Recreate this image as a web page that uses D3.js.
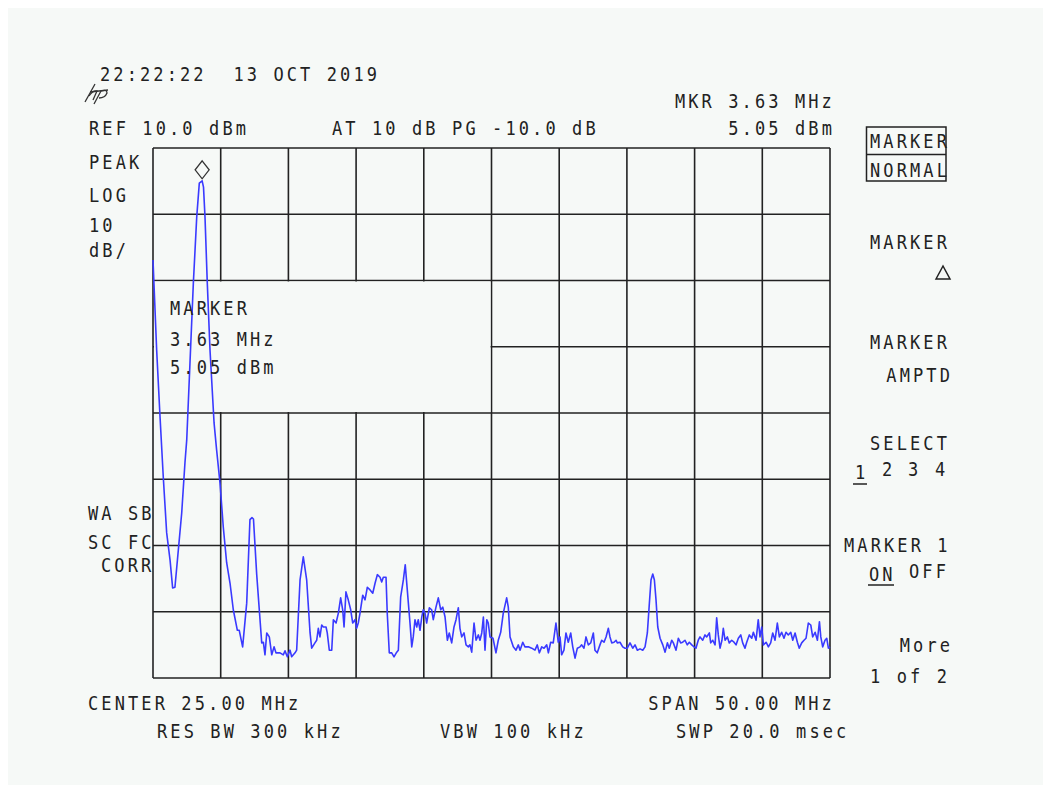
<!DOCTYPE html>
<html>
<head>
<meta charset="utf-8">
<script src="https://cdn.jsdelivr.net/npm/d3@7"></script>
<style>
  html, body { margin: 0; padding: 0; background: #ffffff; }
  svg { display: block; }
  text { font-family: "DejaVu Sans Mono", monospace; font-size: 20px; letter-spacing: 3.66px; fill: #222; white-space: pre; }
</style>
</head>
<body>
<svg id="chart" width="1051" height="792"></svg>
<script>
// ---- Data (frequency in MHz, level in dBm) ----
const freqMHz = [
  0.00, 0.27, 0.52, 0.76, 1.01, 1.26, 1.45, 1.62, 1.87, 2.12, 2.36, 2.49, 2.73, 2.98, 3.23, 3.42, 3.63, 3.73, 3.84, 4.01,
  4.21, 4.51, 4.70, 4.95, 5.19, 5.44, 5.69, 5.93, 6.23, 6.37, 6.62, 6.92, 7.16, 7.31, 7.42, 7.66, 8.03, 8.15, 8.27, 8.40,
  8.59, 8.77, 8.94, 9.08, 9.38, 9.62, 9.75, 9.92, 10.12, 10.24, 10.49, 10.61, 10.86, 11.10, 11.35, 11.60, 11.72, 11.96, 12.09, 12.21,
  12.33, 12.46, 12.58, 12.78, 12.87, 13.02, 13.20, 13.32, 13.52, 13.69, 13.86, 14.01, 14.11, 14.25, 14.42, 14.60, 14.75, 14.92, 15.04, 15.16,
  15.29, 15.49, 15.66, 15.83, 16.03, 16.23, 16.40, 16.57, 16.77, 16.89, 17.01, 17.21, 17.30, 17.45, 17.63, 17.80, 18.00, 18.12, 18.29, 18.49,
  18.63, 18.78, 18.98, 19.11, 19.22, 19.35, 19.48, 19.59, 19.72, 19.85, 19.96, 20.09, 20.21, 20.41, 20.58, 20.70, 20.90, 21.07, 21.25, 21.40,
  21.57, 21.74, 21.88, 22.06, 22.23, 22.38, 22.55, 22.67, 22.80, 22.97, 23.12, 23.29, 23.41, 23.54, 23.71, 23.86, 24.03, 24.15, 24.28, 24.40,
  24.52, 24.65, 24.76, 24.89, 25.11, 25.33, 25.50, 25.68, 25.87, 26.12, 26.24, 26.37, 26.61, 26.81, 26.98, 27.11, 27.31, 27.47, 27.72, 27.97,
  28.21, 28.38, 28.53, 28.71, 28.88, 29.08, 29.20, 29.37, 29.56, 29.76, 29.93, 30.06, 30.18, 30.35, 30.50, 30.67, 30.85, 31.00, 31.17, 31.34,
  31.54, 31.66, 31.83, 31.98, 32.15, 32.33, 32.52, 32.64, 32.81, 33.01, 33.14, 33.31, 33.46, 33.63, 33.75, 33.88, 34.05, 34.20, 34.29, 34.49,
  34.69, 34.86, 35.03, 35.23, 35.43, 35.60, 35.77, 35.97, 36.17, 36.34, 36.51, 36.66, 36.78, 36.91, 37.03, 37.15, 37.28, 37.45, 37.65, 37.82,
  37.99, 38.13, 38.31, 38.43, 38.63, 38.80, 38.97, 39.12, 39.29, 39.46, 39.61, 39.79, 39.96, 40.10, 40.27, 40.40, 40.60, 40.77, 40.89, 41.09,
  41.19, 41.34, 41.51, 41.63, 41.75, 41.88, 42.02, 42.12, 42.25, 42.42, 42.56, 42.74, 42.91, 43.06, 43.23, 43.41, 43.55, 43.72, 43.85, 44.04,
  44.22, 44.34, 44.54, 44.70, 44.83, 44.96, 45.08, 45.28, 45.45, 45.62, 45.77, 45.94, 46.11, 46.26, 46.43, 46.60, 46.75, 46.92, 47.10, 47.25,
  47.42, 47.59, 47.73, 47.91, 48.08, 48.23, 48.40, 48.58, 48.72, 48.90, 49.07, 49.22, 49.32, 49.46, 49.63, 49.76, 49.88, 50.00
];
const levelDBm = [
  -6.9, -20.5, -30.6, -39.7, -48.1, -52.2, -56.4, -56.3, -50.7, -45.1, -37.5, -34.1, -22.5, -10.4, -0.4, 4.7, 5.05, 4.1, -0.4, -10.4,
  -20.5, -31.5, -35.6, -40.6, -47.2, -52.6, -55.7, -59.7, -62.8, -62.8, -65.3, -58.7, -46.1, -45.8, -46.0, -54.4, -64.7, -64.6, -66.5, -63.2,
  -63.8, -66.5, -65.3, -66.2, -66.2, -66.5, -65.9, -66.8, -65.8, -66.8, -66.2, -65.8, -55.2, -51.7, -55.2, -63.2, -65.5, -64.7, -64.3, -62.5,
  -63.8, -62.0, -62.3, -62.3, -63.2, -65.8, -65.8, -61.2, -61.7, -60.2, -57.9, -59.7, -62.3, -57.0, -58.2, -59.7, -61.7, -61.2, -62.5, -61.7,
  -60.2, -57.5, -58.2, -56.3, -56.7, -57.2, -55.7, -54.4, -54.8, -55.5, -54.8, -54.8, -60.2, -66.2, -66.2, -66.8, -66.1, -65.8, -57.8, -55.2,
  -52.9, -56.7, -61.7, -65.3, -63.8, -61.2, -62.3, -61.2, -62.8, -60.8, -59.7, -60.2, -61.7, -59.4, -59.7, -61.2, -59.3, -57.9, -59.7, -59.3,
  -60.8, -64.3, -63.2, -64.7, -62.3, -61.2, -59.4, -62.5, -63.8, -63.2, -65.0, -65.3, -65.0, -66.1, -61.7, -64.3, -63.5, -64.3, -63.2, -60.8,
  -65.8, -61.2, -61.7, -63.8, -64.0, -66.2, -64.3, -63.1, -60.2, -57.9, -59.3, -63.8, -65.3, -65.8, -65.0, -65.8, -64.6, -65.3, -65.3, -65.5,
  -65.8, -65.0, -66.2, -65.3, -65.5, -65.0, -66.2, -64.6, -64.7, -61.7, -64.6, -63.8, -66.5, -65.8, -63.2, -64.6, -63.2, -65.3, -67.0, -65.5,
  -65.3, -65.0, -65.5, -63.8, -65.0, -64.7, -63.2, -65.8, -66.2, -65.0, -64.3, -64.6, -63.8, -62.5, -63.8, -64.7, -64.6, -64.3, -64.7, -64.6,
  -65.3, -65.5, -65.5, -64.7, -65.5, -65.0, -65.8, -65.6, -65.8, -65.3, -63.2, -58.7, -55.2, -54.3, -55.2, -58.2, -62.3, -64.0, -65.0, -66.1,
  -64.7, -65.5, -64.3, -64.7, -65.8, -64.0, -64.7, -64.6, -64.3, -65.0, -64.6, -65.0, -65.3, -65.5, -64.3, -63.8, -64.3, -63.5, -63.8, -63.2,
  -64.7, -64.3, -65.0, -60.9, -63.5, -65.5, -64.3, -62.5, -64.3, -63.8, -64.7, -64.3, -64.6, -65.0, -64.0, -63.5, -64.7, -65.5, -64.6, -63.5,
  -64.0, -63.1, -64.3, -61.2, -63.8, -62.3, -65.0, -64.6, -65.3, -64.7, -63.2, -64.3, -61.7, -63.8, -63.1, -64.0, -63.1, -63.5, -63.1, -64.3,
  -63.2, -64.6, -65.5, -64.7, -64.3, -64.0, -61.7, -62.0, -63.8, -63.1, -64.3, -61.5, -63.8, -65.3, -64.3, -64.0, -65.5, -65.3
];
const xTicksMHz = [0, 5, 10, 15, 20, 25, 30, 35, 40, 45, 50];
const yTicksDBm = [10, 0, -10, -20, -30, -40, -50, -60, -70];
const markerMHz = 3.63;
const markerDBm = 5.05;

// ---- Annotation texts ----
const headerTexts = ["22:22:22  13 OCT 2019", "REF 10.0 dBm", "AT 10 dB PG -10.0 dB", "MKR 3.63 MHz", "5.05 dBm"];
const leftTexts = ["PEAK", "LOG", "10", "dB/", "WA SB", "SC FC", "CORR"];
const markerBoxTexts = ["MARKER", "3.63 MHz", "5.05 dBm"];
const softkeyTexts = ["MARKER", "NORMAL", "MARKER", "MARKER", "AMPTD", "SELECT", "MARKER 1", "More", "1 of 2"];
const footerTexts = ["CENTER 25.00 MHz", "SPAN 50.00 MHz", "RES BW 300 kHz", "VBW 100 kHz", "SWP 20.0 msec"];

// ---- Layout ----
const svg = d3.select("#chart");
const plot = { left: 153, right: 830, top: 148, bottom: 678 };
const x = d3.scaleLinear().domain([0, 50]).range([plot.left, plot.right]);
const y = d3.scaleLinear().domain([-70, 10]).range([plot.bottom, plot.top]);
const SX = 0.85;            // horizontal condensing of the stroke-like font
const PITCH = 13.35;        // character pitch on screen
const ink = "#222";

svg.append("rect").attr("x", 8).attr("y", 8).attr("width", 1035).attr("height", 777).attr("fill", "#f6f9f7");

// grid
const grid = svg.append("g").attr("stroke", ink).attr("stroke-width", 1.6).attr("fill", "none");
grid.selectAll("line.v").data(xTicksMHz).join("line").attr("class", "v")
  .attr("x1", d => x(d)).attr("x2", d => x(d)).attr("y1", y(10)).attr("y2", y(-70));
grid.selectAll("line.h").data(yTicksDBm).join("line").attr("class", "h")
  .attr("x1", x(0)).attr("x2", x(50)).attr("y1", d => y(d)).attr("y2", d => y(d));

// marker readout box (blanks the grid from 0-25 MHz, -10 to -30 dBm)
svg.append("rect")
  .attr("x", x(0) + 1).attr("y", y(-10) + 1)
  .attr("width", x(25) - x(0) - 2).attr("height", y(-30) - y(-10) - 2)
  .attr("fill", "#f6f9f7");

// trace
const line = d3.line().x(d => x(d[0])).y(d => y(d[1]));
svg.append("path")
  .datum(freqMHz.map((f, i) => [f, levelDBm[i]]))
  .attr("d", line)
  .attr("fill", "none")
  .attr("stroke", "#3a3aff")
  .attr("stroke-width", 1.6)
  .attr("stroke-linejoin", "round");

// marker diamond
const mx = x(markerMHz), my = y(markerDBm) - 11;
svg.append("path")
  .attr("d", `M${mx},${my - 9}L${mx + 7},${my}L${mx},${my + 9}L${mx - 7},${my}Z`)
  .attr("fill", "none").attr("stroke", "#333").attr("stroke-width", 1.3);

// text helper (left-aligned, fixed pitch, condensed)
function t(x0, y0, s) {
  return svg.append("text")
    .attr("transform", `translate(${x0},${y0}) scale(${SX},1)`)
    .attr("x", 0).attr("y", 0).text(s);
}
function tr(xEnd, y0, s) { // right aligned: last glyph ends near xEnd
  return t(xEnd - s.length * PITCH + 3.1, y0, s);
}

// header
t(100, 81, headerTexts[0]);
t(89, 135, headerTexts[1]);
t(332, 135, headerTexts[2]);
tr(832, 108, headerTexts[3]);
tr(832, 135, headerTexts[4]);

// hp logo
const logo = svg.append("g").attr("stroke", "#333").attr("stroke-width", 1.3).attr("fill", "none");
logo.append("path").attr("d", "M85,102 L95,84");
logo.append("path").attr("d", "M89,96 Q93,90 97,91 L93,100");
logo.append("path").attr("d", "M94,104 L101,91 Q107,89 107,93 Q105,98 99,98");
logo.append("path").attr("d", "M90,92 L108,90");

// left annotations
t(89, 169, leftTexts[0]);
t(89, 202, leftTexts[1]);
t(89, 232, leftTexts[2]);
t(89, 257, leftTexts[3]);
t(88, 520, leftTexts[4]);
t(88, 549, leftTexts[5]);
t(101, 572, leftTexts[6]);

// marker box text
t(170, 315, markerBoxTexts[0]);
t(170, 346, markerBoxTexts[1]);
t(170, 374, markerBoxTexts[2]);

// softkeys
const sk = svg.append("g").attr("stroke", ink).attr("stroke-width", 1.5).attr("fill", "none");
sk.append("rect").attr("x", 866.5).attr("y", 127).attr("width", 79.5).attr("height", 54);
sk.append("line").attr("x1", 866.5).attr("x2", 946).attr("y1", 154.5).attr("y2", 154.5);
t(870, 148, softkeyTexts[0]);
t(870, 177, softkeyTexts[1]);
t(870, 249, softkeyTexts[2]);
sk.append("path").attr("d", "M936,279 L943,266 L950,279 Z");
t(870, 349, softkeyTexts[3]);
tr(950, 382, softkeyTexts[4]);
t(870, 450, softkeyTexts[5]);
t(855, 479, "1");
t(882, 476, "2");
t(908, 476, "3");
t(935, 476, "4");
sk.append("line").attr("x1", 853).attr("x2", 867).attr("y1", 484).attr("y2", 484);
t(869, 581, "ON");
t(909, 578, "OFF");
sk.append("line").attr("x1", 868).attr("x2", 894).attr("y1", 585).attr("y2", 585);
t(844, 552, softkeyTexts[6]);
tr(950, 652, softkeyTexts[7]);
t(870, 683, softkeyTexts[8]);

// footer
t(88, 710, footerTexts[0]);
tr(832, 710, footerTexts[1]);
t(157, 738, footerTexts[2]);
t(440, 738, footerTexts[3]);
t(676, 738, footerTexts[4]);
</script>
</body>
</html>
